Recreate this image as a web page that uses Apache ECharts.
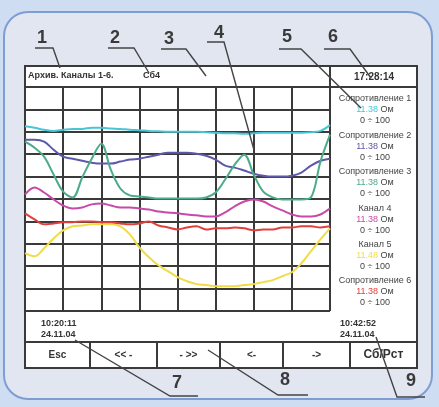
<!DOCTYPE html>
<html>
<head>
<meta charset="utf-8">
<script src="https://cdn.jsdelivr.net/npm/echarts@6/dist/echarts.min.js"></script>
<style>
  html, body { margin: 0; padding: 0; background: #cfddf2; }
  #chart { width: 439px; height: 407px; }
</style>
</head>
<body>
<div id="chart"></div>
<script>
// Recorder archive screen: six channels over one time window (8 grid divisions, 4 samples each)
const headerTitle = 'Архив. Каналы 1-6.';
const headerPage = 'Сб4';
const headerClock = '17:28:14';
const startTime = '10:20:11';
const startDate = '24.11.04';
const endTime = '10:42:52';
const endDate = '24.11.04';
const buttonLabels = ['Esc', '<< -', '- >>', '<-', '->', 'Сб/Рст'];

const channelNames = ['Сопротивление 1', 'Сопротивление 2', 'Сопротивление 3', 'Канал 4', 'Канал 5', 'Сопротивление 6'];
const channelReadings = ['11.38', '11.38', '11.38', '11.38', '11.48', '11.38'];
const channelUnit = 'Ом';
const channelRanges = ['0 ÷ 100', '0 ÷ 100', '0 ÷ 100', '0 ÷ 100', '0 ÷ 100', '0 ÷ 100'];

// samples, % of scale
const channel1 = [82.5, 81.8, 80.9, 80.4, 80.9, 81.3, 81.3, 81.8, 81.8, 81.5, 81.3, 80.9, 80.7, 80.4, 80.2, 80.0, 80.0,
  80.0, 80.0, 79.8, 79.6, 79.3, 79.3, 79.1, 79.3, 79.6, 79.6, 79.6, 79.6, 79.6, 79.8, 80.4, 83.0];
const channel2 = [76.4, 76.4, 75.6, 72.0, 68.9, 68.0, 67.1, 66.2, 65.8, 65.8, 66.7, 67.6, 68.0, 68.9, 69.8, 70.7, 70.7,
  70.7, 70.2, 69.3, 67.6, 64.9, 64.0, 62.7, 61.3, 60.4, 60.0, 60.0, 60.4, 61.8, 64.9, 67.1, 68.0];
const channel3 = [75.6, 72.9, 68.9, 60.9, 53.3, 50.7, 59.6, 68.0, 74.7, 63.1, 54.7, 51.6, 51.1, 50.7, 50.2, 50.2, 50.2,
  50.2, 50.2, 50.7, 52.9, 58.7, 65.3, 69.8, 60.9, 53.3, 50.7, 49.8, 49.8, 49.8, 50.7, 66.7, 78.7];
const channel4 = [52.0, 55.1, 52.9, 49.8, 47.1, 45.8, 46.2, 47.6, 48.0, 47.1, 46.2, 46.2, 45.8, 45.3, 44.4, 44.0, 43.6,
  43.1, 42.7, 42.2, 42.2, 44.0, 46.7, 48.9, 49.8, 48.9, 46.7, 44.9, 43.1, 42.2, 42.2, 43.1, 45.8];
const channel5 = [25.8, 24.4, 28.0, 32.4, 36.0, 37.8, 38.2, 38.7, 38.7, 38.7, 37.8, 34.2, 28.4, 24.0, 20.4, 17.8, 15.1,
  13.3, 12.0, 11.6, 11.1, 11.1, 11.1, 11.6, 12.0, 12.9, 13.8, 15.6, 17.3, 21.3, 26.7, 32.0, 36.9];
const channel6 = [43.6, 40.9, 38.7, 39.1, 39.6, 39.6, 40.0, 40.0, 39.6, 39.6, 39.1, 38.7, 39.1, 40.0, 38.2, 37.3, 36.4,
  37.3, 37.8, 36.4, 36.9, 36.9, 37.3, 36.9, 36.0, 36.4, 36.4, 37.3, 37.3, 37.8, 37.8, 37.3, 37.8];

const channelData = [channel1, channel2, channel3, channel4, channel5, channel6];
const channelColors = ['#48c6d6', '#5d58a8', '#4cab88', '#c84aa8', '#f0dc46', '#e0403c'];

const ink = '#333';
const uiFont = '"Liberation Sans", Arial, sans-serif';

const chart = echarts.init(document.getElementById('chart'), null, { renderer: 'canvas' });

const g = [];
// page and panel
g.push({ type: 'rect', z: -30, shape: { x: 0, y: 0, width: 439, height: 407 }, style: { fill: '#cfddf2' } });
g.push({ type: 'rect', z: -29, shape: { x: 4, y: 12, width: 428, height: 387, r: 24 },
  style: { fill: '#e1e6f1', stroke: '#7e9dd2', lineWidth: 2 } });
g.push({ type: 'rect', z: -28, shape: { x: 25, y: 66, width: 392, height: 302 },
  style: { fill: '#ffffff', stroke: '#3a3a3a', lineWidth: 2 } });

const line = (x1, y1, x2, y2, w) => ({ type: 'line', z: 20, shape: { x1, y1, x2, y2 },
  style: { stroke: '#3a3a3a', lineWidth: w || 2 } });
g.push(line(25, 87, 417, 87));
g.push(line(330, 66, 330, 87));
g.push(line(25, 342, 417, 342));
[90, 157, 220, 283, 350].forEach(x => g.push(line(x, 342, x, 368)));

const text = (x, y, s, size, extra) => Object.assign({ type: 'text', z: 30, x, y,
  style: Object.assign({ text: s, fill: ink, font: `${size}px ${uiFont}`, align: 'left', verticalAlign: 'middle' }, extra || {}) });

// header row
g.push(text(28, 76, headerTitle, 9, { font: `bold 9px ${uiFont}` }));
g.push(text(143, 76, headerPage, 9, { font: `bold 9px ${uiFont}` }));
g.push(text(374, 77, headerClock, 10, { align: 'center', font: `bold 10px ${uiFont}` }));

// channel list
channelNames.forEach((name, j) => {
  const y0 = 99 + 36.4 * j;
  g.push(text(375, y0, name, 9, { align: 'center', fill: '#444' }));
  g.push({ type: 'text', z: 30, x: 375, y: y0 + 11, style: {
    text: `{v|${channelReadings[j]}} ${channelUnit}`, align: 'center', verticalAlign: 'middle',
    font: `9px ${uiFont}`, fill: '#444',
    rich: { v: { fill: channelColors[j], font: `9px ${uiFont}` } } } });
  g.push(text(375, y0 + 22, channelRanges[j], 9, { align: 'center', fill: '#444' }));
});

// window start / end stamps
g.push(text(41, 324, startTime, 9, { font: `bold 9px ${uiFont}` }));
g.push(text(41, 335, startDate, 9, { font: `bold 9px ${uiFont}` }));
g.push(text(340, 324, endTime, 9, { font: `bold 9px ${uiFont}` }));
g.push(text(340, 335, endDate, 9, { font: `bold 9px ${uiFont}` }));

// soft keys
const keyCenters = [57.5, 123.5, 188.5, 251.5, 316.5, 383.5];
buttonLabels.forEach((b, i) => {
  const big = i === buttonLabels.length - 1;
  g.push(text(keyCenters[i], 355, b, big ? 12 : 10, { align: 'center', font: `bold ${big ? 12 : 10}px ${uiFont}` }));
});

// numbered callouts
const callouts = [
  { n: '1', at: [42, 38], path: [[35, 48], [53, 48], [60, 68]] },
  { n: '2', at: [115, 38], path: [[108, 48], [134, 48], [149, 73]] },
  { n: '3', at: [169, 39], path: [[161, 49], [186, 49], [206, 76]] },
  { n: '4', at: [219, 33], path: [[207, 42], [224, 42], [254, 150]] },
  { n: '5', at: [287, 37], path: [[279, 49], [301, 49], [361, 108]] },
  { n: '6', at: [333, 37], path: [[324, 49], [350, 49], [371, 78]] },
  { n: '7', at: [177, 383], path: [[198, 396], [170, 396], [75, 340]] },
  { n: '8', at: [285, 380], path: [[308, 395], [278, 395], [208, 350]] },
  { n: '9', at: [411, 381], path: [[425, 397], [397, 397], [376, 337]] }
];
callouts.forEach(c => {
  g.push({ type: 'polyline', z: 40, shape: { points: c.path },
    style: { stroke: '#444', lineWidth: 1.4, fill: null } });
  g.push(text(c.at[0], c.at[1], c.n, 18, { align: 'center', font: `bold 18px ${uiFont}`, fill: '#3a3a3a' }));
});

const series = channelData.map((arr, k) => ({
  type: 'line',
  name: channelNames[k],
  data: arr.map((v, i) => [i, v]),
  smooth: 0.35,
  showSymbol: false,
  z: 5 + k,
  lineStyle: { color: channelColors[k], width: 2 },
  itemStyle: { color: channelColors[k] }
}));

chart.setOption({
  animation: false,
  backgroundColor: 'transparent',
  grid: { left: 25, top: 87, width: 305, height: 224 },
  xAxis: {
    type: 'value', min: 0, max: 32, interval: 4,
    axisLine: { show: false }, axisTick: { show: false }, axisLabel: { show: false },
    splitLine: { show: true, lineStyle: { color: '#3a3a3a', width: 2 } }
  },
  yAxis: {
    type: 'value', min: 0, max: 100, interval: 10,
    axisLine: { show: false }, axisTick: { show: false }, axisLabel: { show: false },
    splitLine: { show: true, lineStyle: { color: '#3a3a3a', width: 2 } }
  },
  graphic: { elements: g },
  series
});
</script>
</body>
</html>
